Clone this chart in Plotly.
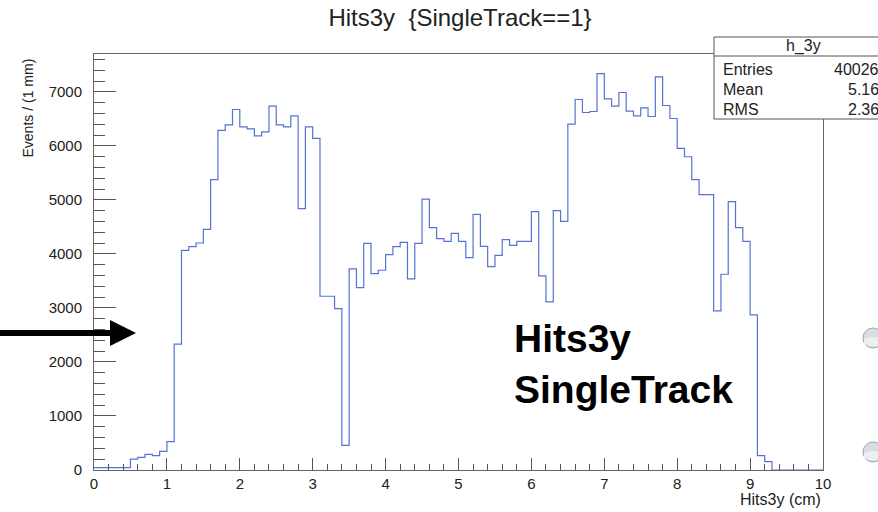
import plotly.graph_objects as go

# Histogram h_3y: 100 bins of 1 mm between 0 and 10 cm
bin_low = 0.0
bin_width = 0.1
counts = [
    45, 45, 45, 45, 45, 200, 234, 290, 265, 345,
    524, 2329, 4067, 4134, 4202, 4455, 5373, 6285, 6389, 6673,
    6352, 6315, 6186, 6260, 6734, 6389, 6352, 6556, 4837, 6352,
    6137, 3216, 3216, 2988, 456, 3722, 3376, 4196, 3635, 3697,
    3987, 4134, 4214, 3537, 4196, 5015, 4486, 4282, 4233, 4381,
    4233, 3931, 4732, 4140, 3765, 3974, 4264, 4159, 4233, 4233,
    4781, 3592, 3111, 4800, 4603, 6402, 6858, 6617, 6636, 7338,
    6870, 6734, 6987, 6642, 6556, 6704, 6543, 7276, 6747, 6506,
    5952, 5798, 5373, 5096, 5096, 2945, 3623, 4966, 4486, 4233,
    2871, 265, 154, 0, 0, 0, 0, 0, 0, 0,
]
stats_labels = ["Entries", "Mean", "RMS"]
stats_values = ["40026", "5.16", "2.36"]

edges = [bin_low + i * bin_width for i in range(len(counts) + 1)]
step_y = counts + [counts[-1]]

W, H = 878, 512
ML, MR, MT, MB = 94, 55, 54, 42
PW, PH = W - ML - MR, H - MT - MB


def fx(px):
    """pixel x -> paper x"""
    return (px - ML) / PW


def fy(py):
    """pixel y -> paper y"""
    return (H - MB - py) / PH


FONT = "Liberation Sans, Arial, Helvetica, sans-serif"
TXT = "#222222"

fig = go.Figure()
fig.add_trace(go.Scatter(
    x=edges, y=step_y, mode="lines", line_shape="hv",
    line=dict(color="#5473d2", width=1.2), hoverinfo="skip", showlegend=False,
))

axis_common = dict(
    showgrid=False, zeroline=False, showline=True, linecolor="#666666", linewidth=1,
    mirror=True, ticks="inside", tickcolor="#555555", tickwidth=1,
    tickfont=dict(family=FONT, size=15, color=TXT),
)
fig.update_xaxes(
    range=[0, 10], dtick=1, tick0=0, ticklen=12,
    minor=dict(dtick=0.2, ticklen=6, tickcolor="#555555", ticks="inside"),
    **axis_common,
)
fig.update_yaxes(
    range=[0, 7700], dtick=1000, tick0=0, ticklen=22, ticklabelstandoff=8,
    minor=dict(dtick=200, ticklen=11, tickcolor="#555555", ticks="inside"),
    **axis_common,
)

shapes = []
annotations = []

# axis titles
annotations.append(dict(
    text="Hits3y (cm)", xref="paper", yref="paper", x=1.0, y=fy(499),
    xanchor="right", yanchor="middle", showarrow=False,
    font=dict(family=FONT, size=16, color=TXT),
))
annotations.append(dict(
    text="Events / (1 mm)", xref="paper", yref="paper", x=fx(28), y=fy(57),
    xanchor="center", yanchor="top", textangle=-90, showarrow=False,
    font=dict(family=FONT, size=14, color=TXT),
))

# statistics box
box_l, box_r, box_t, box_b, box_sep = 714, 905, 37, 119, 56
shapes.append(dict(type="rect", xref="paper", yref="paper",
                   x0=fx(box_l), x1=fx(box_r), y0=fy(box_b), y1=fy(box_t),
                   fillcolor="white", line=dict(color="#555555", width=1), layer="above"))
shapes.append(dict(type="line", xref="paper", yref="paper",
                   x0=fx(box_l), x1=fx(box_r), y0=fy(box_sep), y1=fy(box_sep),
                   line=dict(color="#555555", width=1), layer="above"))
annotations.append(dict(
    text="h_3y", xref="paper", yref="paper", x=fx(803), y=fy(46),
    xanchor="center", yanchor="middle", showarrow=False,
    font=dict(family=FONT, size=16, color=TXT),
))
for i, (lab, val) in enumerate(zip(stats_labels, stats_values)):
    yy = fy(69 + 20.5 * i)
    annotations.append(dict(text=lab, xref="paper", yref="paper", x=fx(721), y=yy,
                            xanchor="left", yanchor="middle", showarrow=False,
                            font=dict(family=FONT, size=16, color=TXT)))
    annotations.append(dict(text=val, xref="paper", yref="paper", x=fx(881), y=yy,
                            xanchor="right", yanchor="middle", showarrow=False,
                            font=dict(family=FONT, size=16, color=TXT)))

# pointer arrow on the left
shapes.append(dict(type="line", xref="paper", yref="paper",
                   x0=fx(-2), x1=fx(114), y0=fy(333), y1=fy(333),
                   line=dict(color="black", width=6), layer="above"))
shapes.append(dict(type="path", xref="paper", yref="paper",
                   path=f"M {fx(110)},{fy(320)} L {fx(136)},{fy(333)} L {fx(110)},{fy(346)} Z",
                   fillcolor="black", line=dict(color="black", width=0), layer="above"))

# large caption
annotations.append(dict(
    text="<b>Hits3y</b><br><b>SingleTrack</b>", xref="paper", yref="paper",
    x=fx(512), y=fy(364), xanchor="left", yanchor="middle", align="left",
    showarrow=False, font=dict(family=FONT, size=39, color="black"),
))

# round buttons at the right edge
for cy in (338, 452):
    shapes.append(dict(type="circle", xref="paper", yref="paper",
                       x0=fx(863), x1=fx(883), y0=fy(cy + 10), y1=fy(cy - 10),
                       fillcolor="#d9dce3", line=dict(color="#9fa2a8", width=1), layer="above"))
    shapes.append(dict(type="path", xref="paper", yref="paper",
                       path=(f"M {fx(864)},{fy(cy + 1)} Q {fx(873)},{fy(cy - 3)} {fx(882)},{fy(cy + 1)} "
                             f"L {fx(882)},{fy(cy + 6)} Q {fx(873)},{fy(cy + 11)} {fx(864)},{fy(cy + 6)} Z"),
                       fillcolor="#eceef2", line=dict(width=0), layer="above"))

fig.update_layout(
    width=W, height=H,
    margin=dict(l=ML, r=MR, t=MT, b=MB, pad=0),
    paper_bgcolor="white", plot_bgcolor="white",
    title=dict(text="Hits3y\u00a0\u00a0{SingleTrack==1}", x=fx(460), xref="paper", xanchor="center",
               y=1 - 18 / H, yanchor="middle",
               font=dict(family=FONT, size=24, color=TXT)),
    shapes=shapes, annotations=annotations,
    showlegend=False,
)

fig.write_html("out.html", config={"displayModeBar": False})
